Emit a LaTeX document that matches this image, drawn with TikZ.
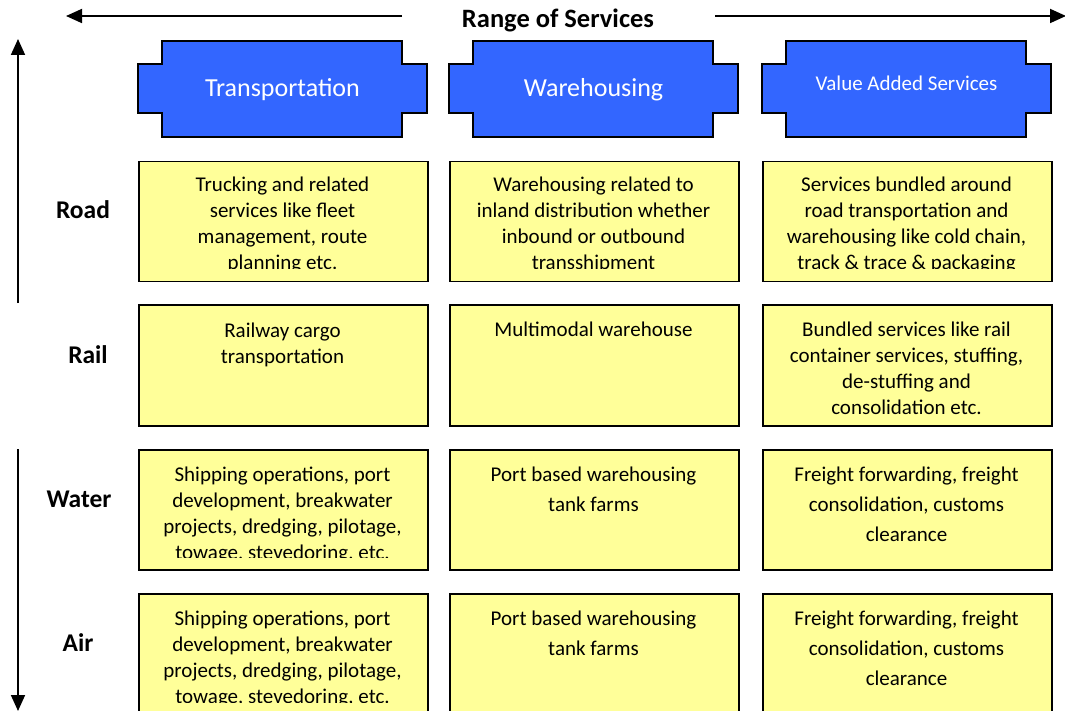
\documentclass[tikz,border=0pt]{standalone}
\usepackage{fontspec}
\setmainfont{Carlito}
\usetikzlibrary{arrows.meta}
\definecolor{hdrblue}{HTML}{3366FF}
\definecolor{cellyel}{HTML}{FFFF99}
\begin{document}
\begin{tikzpicture}[x=1pt,y=-1pt,
  hdr/.style={draw=black, line width=1.5pt, fill=hdrblue},
  cell/.style={draw=black, line width=1.5pt, fill=cellyel, minimum width=289pt, minimum height=120pt, inner sep=0pt, anchor=north west},
  arr/.style={line width=1.8pt, -{Triangle[length=16pt,width=14pt]}},
  lbl/.style={font=\fontsize{25.5}{30}\selectfont\bfseries, inner sep=0pt, anchor=base},
  hdrtext/.style={text=white, inner sep=0pt, anchor=base},
  ctext/.style={inner sep=0pt, anchor=base, font=\fontsize{21}{26}\selectfont},
  ctextw/.style={inner sep=0pt, anchor=base, font=\fontsize{21}{30}\selectfont},
]
\useasboundingbox (0,0) rectangle (1065,711);

% title and arrows
\node[lbl, font=\fontsize{26.5}{30}\selectfont\bfseries] (range) at (558,28) {Range of Services};
\coordinate (tlstart) at (402,16);
\coordinate (tlend) at (66,16);
\coordinate (trstart) at (715,16);
\coordinate (trend) at (1066,16);
\draw[arr] (tlstart) -- (tlend);
\draw[arr] (trstart) -- (trend);
\coordinate (vustart) at (18,303);
\coordinate (vuend) at (18,39);
\coordinate (vdstart) at (18,449);
\coordinate (vdend) at (18,711);
\draw[arr] (vustart) -- (vuend);
\draw[arr] (vdstart) -- (vdend);

% header shapes
\foreach \L in {138,449,762}{
  \draw[hdr] (\L+24,41) -- (\L+264,41) -- (\L+264,64) -- (\L+289,64) -- (\L+289,113)
    -- (\L+264,113) -- (\L+264,137) -- (\L+24,137) -- (\L+24,113) -- (\L,113)
    -- (\L,64) -- (\L+24,64) -- cycle;
}
\node[hdrtext, font=\fontsize{26}{30}\selectfont] (htrans) at (282.5,97) {Transportation};
\node[hdrtext, font=\fontsize{26}{30}\selectfont] (hware) at (593.5,97) {Warehousing};
\node[hdrtext, font=\fontsize{21}{26}\selectfont] (hvas) at (906.5,91) {Value Added Services};

% row labels
\node[lbl] (road) at (83,219) {Road};
\node[lbl] (rail) at (88,363) {Rail};
\node[lbl] (water) at (79,507) {Water};
\node[lbl] (air) at (78,651) {Air};

% cells
\node[cell] (c11) at (138,161) {};
\node[cell] (c12) at (449,161) {};
\node[cell] (c13) at (762,161) {};
\node[cell, minimum height=121pt] (c21) at (138,304) {};
\node[cell, minimum height=121pt] (c22) at (449,304) {};
\node[cell, minimum height=121pt] (c23) at (762,304) {};
\node[cell] (c31) at (138,449) {};
\node[cell] (c32) at (449,449) {};
\node[cell] (c33) at (762,449) {};
\node[cell] (c41) at (138,593) {};
\node[cell] (c42) at (449,593) {};
\node[cell] (c43) at (762,593) {};

% row 1 texts
\begin{scope}
\clip (138,161) rectangle (1051,269);
\node[ctext] (t11) at (282.5,192) {\parbox[t]{285pt}{\centering Trucking and related\\services like fleet\\management, route\\planning etc.}};
\node[ctext] (t12) at (593.5,192) {\parbox[t]{285pt}{\centering Warehousing related to\\inland distribution whether\\inbound or outbound\\transshipment}};
\node[ctext] (t13) at (906.5,192) {\parbox[t]{285pt}{\centering Services bundled around\\road transportation and\\warehousing like cold chain,\\track \& trace \& packaging}};
\end{scope}

% row 2 texts
\node[ctext] (t21) at (282.5,337) {\parbox[t]{285pt}{\centering Railway cargo\\transportation}};
\node[ctext] (t22) at (593.5,336) {\parbox[t]{285pt}{\centering Multimodal warehouse}};
\node[ctext] (t23) at (906.5,336) {\parbox[t]{285pt}{\centering Bundled services like rail\\container services, stuffing,\\de-stuffing and\\consolidation etc.}};

% row 3 texts
\begin{scope}
\clip (138,449) rectangle (1051,557);
\node[ctext] (t31) at (282.5,481) {\parbox[t]{285pt}{\centering Shipping operations, port\\development, breakwater\\projects, dredging, pilotage,\\towage, stevedoring, etc.}};
\end{scope}
\node[ctextw] (t32) at (593.5,481) {\parbox[t]{285pt}{\centering Port based warehousing\\tank farms}};
\node[ctextw] (t33) at (906.5,481) {\parbox[t]{285pt}{\centering Freight forwarding, freight\\consolidation, customs\\clearance}};

% row 4 texts
\begin{scope}
\clip (138,593) rectangle (1051,702);
\node[ctext] (t41) at (282.5,625) {\parbox[t]{285pt}{\centering Shipping operations, port\\development, breakwater\\projects, dredging, pilotage,\\towage, stevedoring, etc.}};
\end{scope}
\node[ctextw] (t42) at (593.5,625) {\parbox[t]{285pt}{\centering Port based warehousing\\tank farms}};
\node[ctextw] (t43) at (906.5,625) {\parbox[t]{285pt}{\centering Freight forwarding, freight\\consolidation, customs\\clearance}};
\end{tikzpicture}
\end{document}
